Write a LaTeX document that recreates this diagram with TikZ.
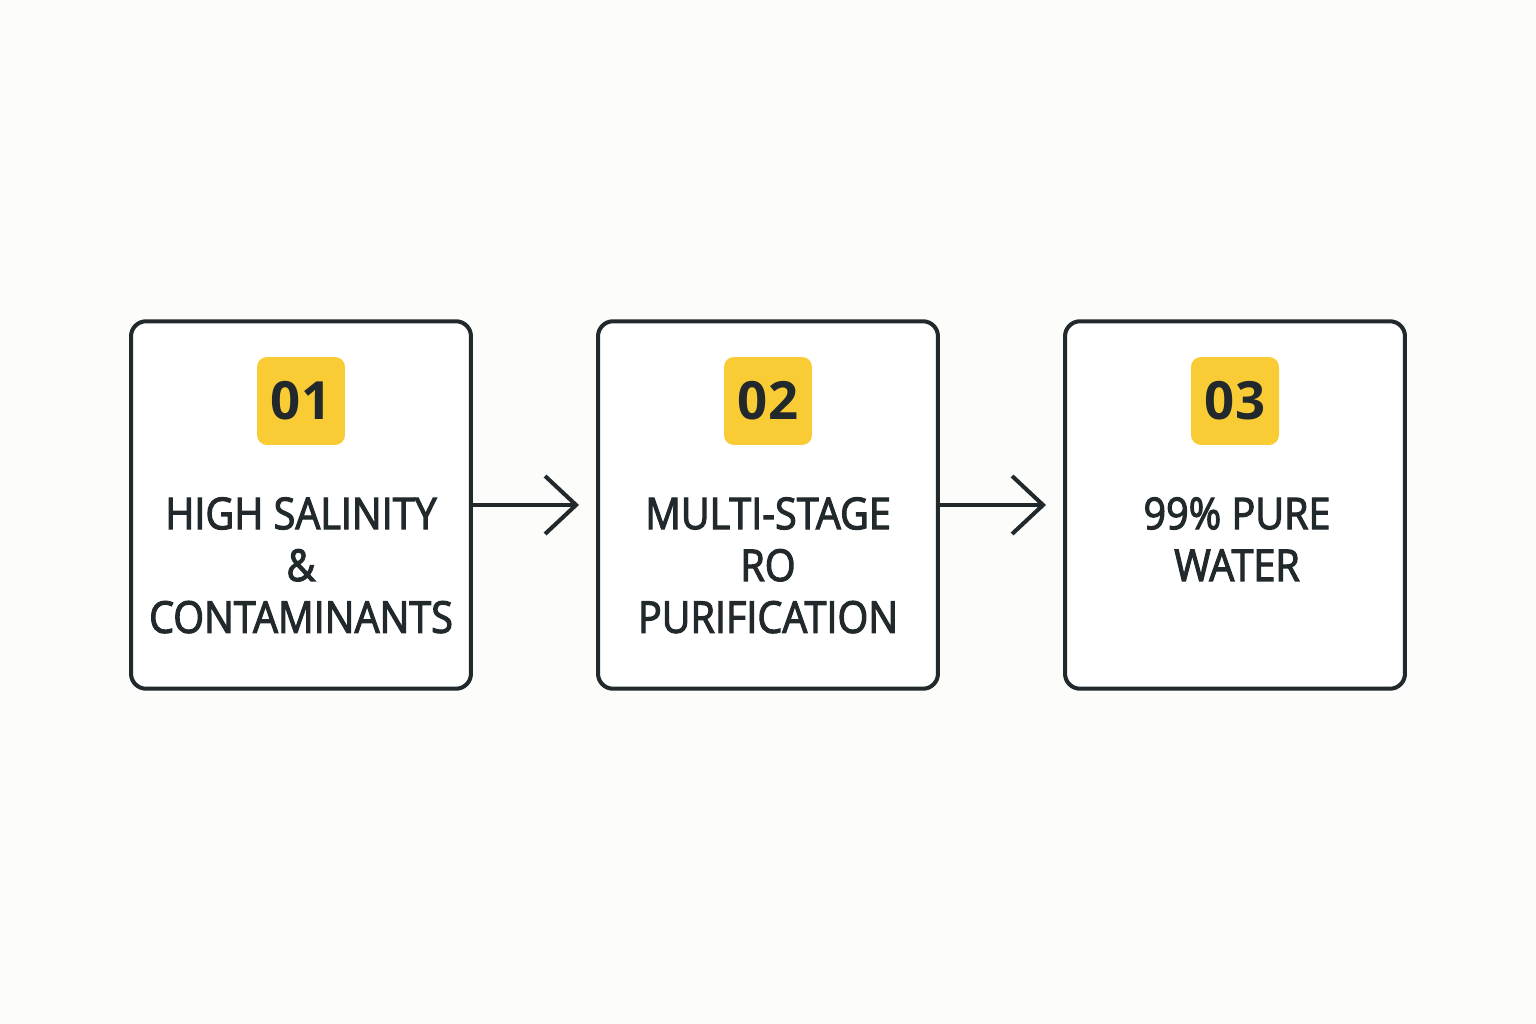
\documentclass[tikz,border=0pt]{standalone}
\usepackage{fontspec}
\setmainfont{Open Sans}
\newfontfamily\lblfont{Open Sans}[FakeStretch=0.9, FakeBold=2.5]
\usepackage{xcolor}
\usetikzlibrary{arrows.meta, positioning}

\definecolor{ink}{HTML}{22292C}
\definecolor{badgeyellow}{HTML}{F9CB35}
\definecolor{paper}{HTML}{FCFCFA}

\begin{document}
\begin{tikzpicture}[
    x=0.02cm, y=-0.02cm,
    stepbox/.style={rectangle, rounded corners=0.3cm, draw=ink, line width=2.3pt,
                    fill=white, minimum width=6.8cm, minimum height=7.35cm},
    badge/.style={rectangle, rounded corners=0.2cm, fill=badgeyellow, text=ink,
                  minimum width=1.76cm, minimum height=1.76cm, inner sep=0pt,
                  font=\fontsize{30}{34}\selectfont\bfseries},
    lbl/.style={anchor=north, align=center, inner sep=0pt, text=ink,
                font=\lblfont\fontsize{25}{29.5}\selectfont},
    arr/.style={-{Straight Barb[length=0.62cm, width=1.16cm]}, draw=ink,
                line width=2.3pt, shorten >=0.34cm}
  ]
    %% background / page size
    \fill[paper] (0,0) rectangle (1536,1024);
    \useasboundingbox (0,0) rectangle (1536,1024);

    %% ── Step boxes
    \node[stepbox] (s1) at (301, 505)  {};
    \node[stepbox] (s2) at (768, 505)  {};
    \node[stepbox] (s3) at (1235, 505) {};

    %% ── Number badges
    \node[badge] (n1) at (301, 401)  {01};
    \node[badge] (n2) at (768, 401)  {02};
    \node[badge] (n3) at (1235, 401) {03};

    %% ── Step texts
    \node[lbl] (t1) at (301, 497)  {HIGH SALINITY\\\&\\CONTAMINANTS};
    \node[lbl] (t2) at (768, 497)  {MULTI-STAGE\\RO\\PURIFICATION};
    \node[lbl] (t3) at (1237, 497) {99\% PURE\\WATER};

    %% Arrows between steps
    \draw[arr] (s1.east) -- (s2.west);
    \draw[arr] (s2.east) -- (s3.west);

\end{tikzpicture}
\end{document}
